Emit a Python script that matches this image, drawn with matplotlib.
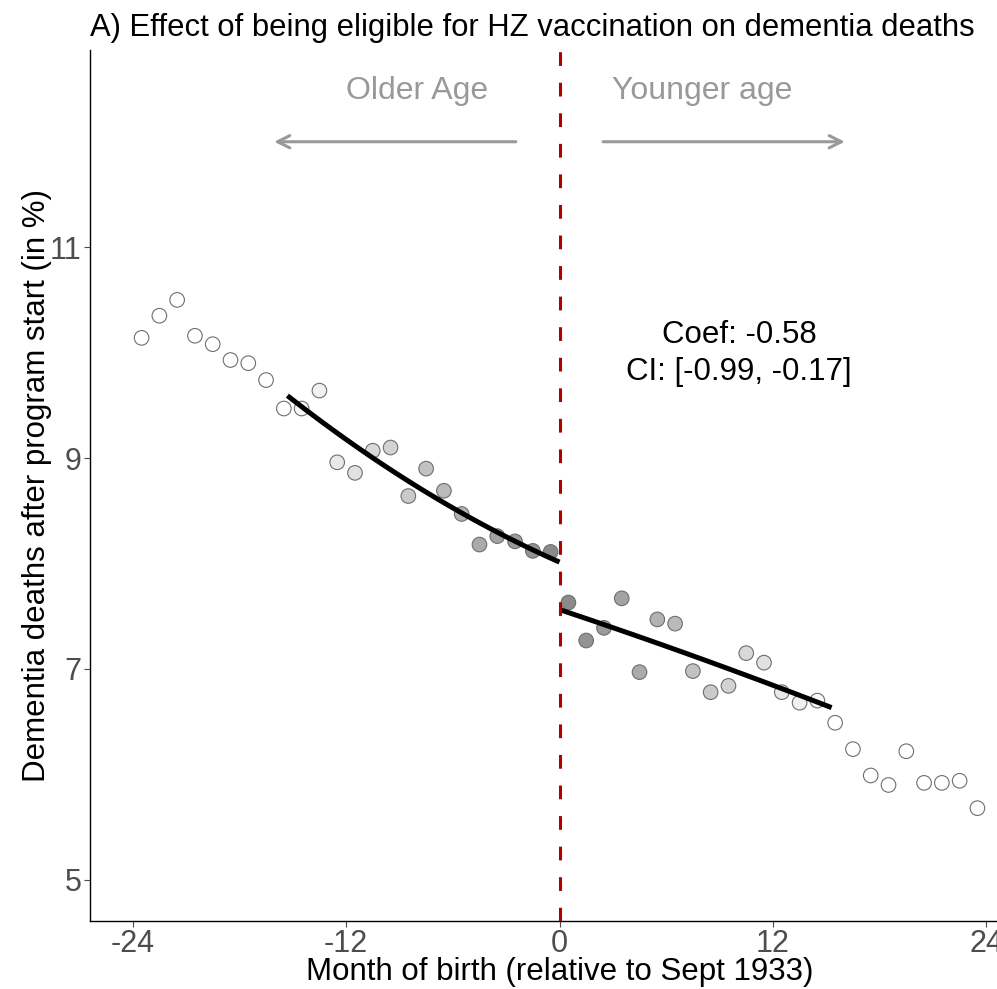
import numpy as np
import matplotlib
matplotlib.use("Agg")
import matplotlib.pyplot as plt

plt.rcParams['font.family'] = ['Liberation Sans', 'DejaVu Sans']

# Binned means (month of birth relative to Sept 1933)
months_left = [-23.5, -22.5, -21.5, -20.5, -19.5, -18.5, -17.5, -16.5, -15.5, -14.5,
               -13.5, -12.5, -11.5, -10.5, -9.5, -8.5, -7.5, -6.5, -5.5, -4.5,
               -3.5, -2.5, -1.5, -0.5]
deaths_left = [10.14, 10.35, 10.50, 10.16, 10.08, 9.93, 9.90, 9.74, 9.47, 9.47,
               9.64, 8.96, 8.86, 9.07, 9.10, 8.64, 8.90, 8.69, 8.47, 8.18,
               8.26, 8.21, 8.12, 8.11]
months_right = [0.5, 1.5, 2.5, 3.5, 4.5, 5.5, 6.5, 7.5, 8.5, 9.5,
                10.5, 11.5, 12.5, 13.5, 14.5, 15.5, 16.5, 17.5, 18.5, 19.5,
                20.5, 21.5, 22.5, 23.5]
deaths_right = [7.63, 7.27, 7.39, 7.67, 6.97, 7.47, 7.43, 6.98, 6.78, 6.84,
                7.15, 7.06, 6.78, 6.68, 6.70, 6.49, 6.24, 5.99, 5.90, 6.22,
                5.92, 5.92, 5.94, 5.68]

bandwidth = 15.3
coef_text = "Coef: -0.58\nCI: [-0.99, -0.17]"
x_ticks = [-24, -12, 0, 12, 24]
y_ticks = [5, 7, 9, 11]

x = np.array(months_left + months_right)
y = np.array(deaths_left + deaths_right)

# triangular kernel weights -> shade of the points
w = np.clip(1 - np.abs(x) / bandwidth, 0, 1)
shade = 1 - 0.47 * w
fills = [(s, s, s) for s in shade]

fig = plt.figure(figsize=(9.97, 9.89), dpi=100)
ax = fig.add_axes([90 / 997, 68 / 989, 939 / 997, 871 / 989])

ax.scatter(x, y, s=110, c=fills, edgecolors="#6e6e6e", linewidths=0.8, zorder=3)

# local quadratic fits on each side, weighted by the kernel
for side in (-1, 1):
    m = (np.sign(x) == side) & (w > 0)
    coefs = np.polyfit(x[m], y[m], 2, w=np.sqrt(w[m]))
    xs = np.linspace(0, side * bandwidth, 100)
    ax.plot(xs, np.polyval(coefs, xs), color="black", linewidth=3.6,
            solid_capstyle="butt", zorder=4)

ax.axvline(0, color="#b20000", linewidth=2.2, dashes=(4.5, 5.5), zorder=5)

# direction arrows
arrow_kw = dict(arrowstyle="->", color="#999999", lw=2.2, mutation_scale=22)
ax.annotate("", xy=(-16.2, 12.0), xytext=(-2.3, 12.0), arrowprops=arrow_kw)
ax.annotate("", xy=(16.2, 12.0), xytext=(2.3, 12.0), arrowprops=arrow_kw)
ax.text(-8, 12.48, "Older Age", color="#999999", fontsize=23, ha="center", va="center")
ax.text(8, 12.48, "Younger age", color="#999999", fontsize=23, ha="center", va="center")

ax.text(10.1, 9.99, coef_text, fontsize=22.5, ha="center", va="center",
        linespacing=1.3)

ax.set_xlim(-26.4, 26.4)
ax.set_ylim(4.61, 12.87)
ax.set_xticks(x_ticks)
ax.set_xticklabels([str(t) for t in x_ticks])
ax.set_yticks(y_ticks)
ax.tick_params(labelsize=22, labelcolor="#4d4d4d", color="#4d4d4d", length=4,
               width=0.8, pad=2)

for s in ["top", "right"]:
    ax.spines[s].set_visible(False)
for s in ["left", "bottom"]:
    ax.spines[s].set_linewidth(1.0)
    ax.spines[s].set_color("black")

fig.text(90 / 997, 1 - 28 / 989, "A) Effect of being eligible for HZ vaccination on dementia deaths",
         fontsize=22.3, ha="left", va="center")
fig.text(560 / 997, 1 - 972 / 989, "Month of birth (relative to Sept 1933)",
         fontsize=22.5, ha="center", va="center")
fig.text(37 / 997, 1 - 485 / 989, "Dementia deaths after program start (in %)",
         fontsize=22.5, ha="center", va="center", rotation=90)

fig.savefig("out.png", dpi=100)
